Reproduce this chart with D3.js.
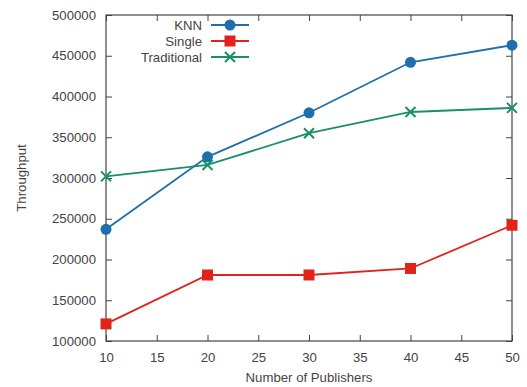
<!DOCTYPE html>
<html>
<head>
<meta charset="utf-8">
<script src="https://cdn.jsdelivr.net/npm/d3@7"></script>
<style>
  body { margin: 0; background: #fff; }
  svg { display: block; font-family: "Liberation Sans", Arial, sans-serif; }
  .tick text { fill: #444; font-size: 13.2px; }
  .label { fill: #444; font-size: 13.2px; }
</style>
</head>
<body>
<div id="chart"></div>
<script>
// Values.
const publishers = [10, 20, 30, 40, 50];
const knnValues = [237000, 326000, 380000, 442000, 463000];
const singleValues = [121000, 181000, 181000, 189000, 242000];
const traditionalValues = [302000, 316000, 355000, 381000, 386000];
const xTicks = [10, 15, 20, 25, 30, 35, 40, 45, 50];
const yTicks = [100000, 150000, 200000, 250000, 300000, 350000, 400000, 450000, 500000];

const seriesList = [
    { name: "KNN", values: knnValues, color: "#1f6fae", marker: "circle" },
    { name: "Single", values: singleValues, color: "#e0231b", marker: "square" },
    { name: "Traditional", values: traditionalValues, color: "#179068", marker: "cross" }
];

const width = 527;
const height = 387;
const margin = { top: 15, right: 15, bottom: 46, left: 106 };

const svg = d3.select("#chart")
    .append("svg")
    .attr("width", width)
    .attr("height", height);

const xScale = d3.scaleLinear()
    .domain([10, 50])
    .range([margin.left, width - margin.right]);

const yScale = d3.scaleLinear()
    .domain([100000, 500000])
    .range([height - margin.bottom, margin.top]);

// ---------- axes (ticks point inward on all sides) ----------

const axisColor = "#444";

function styleAxis(g) {
    g.select(".domain").remove();
    g.selectAll(".tick line").attr("stroke", axisColor);
}

svg.append("g")
    .attr("transform", `translate(0, ${height - margin.bottom})`)
    .call(d3.axisBottom(xScale).tickValues(xTicks).tickSize(-6).tickPadding(12))
    .call(styleAxis);

svg.append("g")
    .attr("transform", `translate(0, ${margin.top})`)
    .call(d3.axisTop(xScale).tickValues(xTicks).tickSize(-6).tickFormat(""))
    .call(styleAxis);

svg.append("g")
    .attr("transform", `translate(${margin.left}, 0)`)
    .call(d3.axisLeft(yScale).tickValues(yTicks).tickSize(-6).tickPadding(10).tickFormat(d3.format("d")))
    .call(styleAxis);

svg.append("g")
    .attr("transform", `translate(${width - margin.right}, 0)`)
    .call(d3.axisRight(yScale).tickValues(yTicks).tickSize(-6).tickFormat(""))
    .call(styleAxis);

svg.append("rect")
    .attr("x", margin.left)
    .attr("y", margin.top)
    .attr("width", width - margin.left - margin.right)
    .attr("height", height - margin.top - margin.bottom)
    .attr("fill", "none")
    .attr("stroke", axisColor)
    .attr("stroke-width", 1.2);

// ---------- lines and markers ----------

const lineGenerator = d3.line()
    .x((d, i) => xScale(publishers[i]))
    .y(d => yScale(d));

function drawMarker(g, type, color) {
    if (type === "circle") {
        g.append("circle").attr("r", 5.5).attr("fill", color);
    } else if (type === "square") {
        g.append("rect")
            .attr("x", -5.5).attr("y", -5.5)
            .attr("width", 11).attr("height", 11)
            .attr("fill", color);
    } else {
        g.append("path")
            .attr("d", "M-5,-5L5,5M-5,5L5,-5")
            .attr("stroke", color)
            .attr("stroke-width", 2)
            .attr("fill", "none");
    }
}

seriesList.forEach(s => {
    svg.append("path")
        .attr("d", lineGenerator(s.values))
        .attr("fill", "none")
        .attr("stroke", s.color)
        .attr("stroke-width", 1.8);

    s.values.forEach((v, i) => {
        const g = svg.append("g")
            .attr("transform", `translate(${xScale(publishers[i])}, ${yScale(v)})`);
        drawMarker(g, s.marker, s.color);
    });
});

// ---------- legend ----------

const legend = svg.append("g").attr("transform", "translate(202, 25)");

seriesList.forEach((s, i) => {
    const row = legend.append("g").attr("transform", `translate(0, ${i * 16})`);
    row.append("text")
        .attr("class", "label")
        .attr("text-anchor", "end")
        .attr("dy", "0.35em")
        .text(s.name);
    row.append("line")
        .attr("x1", 9).attr("x2", 47)
        .attr("stroke", s.color)
        .attr("stroke-width", 1.8);
    const m = row.append("g").attr("transform", "translate(28, 0)");
    drawMarker(m, s.marker, s.color);
});

// ---------- axis titles ----------

svg.append("text")
    .attr("class", "label")
    .attr("x", (margin.left + width - margin.right) / 2)
    .attr("y", 382)
    .attr("text-anchor", "middle")
    .text("Number of Publishers");

svg.append("text")
    .attr("class", "label")
    .attr("transform", `translate(26, ${(margin.top + height - margin.bottom) / 2}) rotate(-90)`)
    .attr("text-anchor", "middle")
    .text("Throughput");
</script>
</body>
</html>
